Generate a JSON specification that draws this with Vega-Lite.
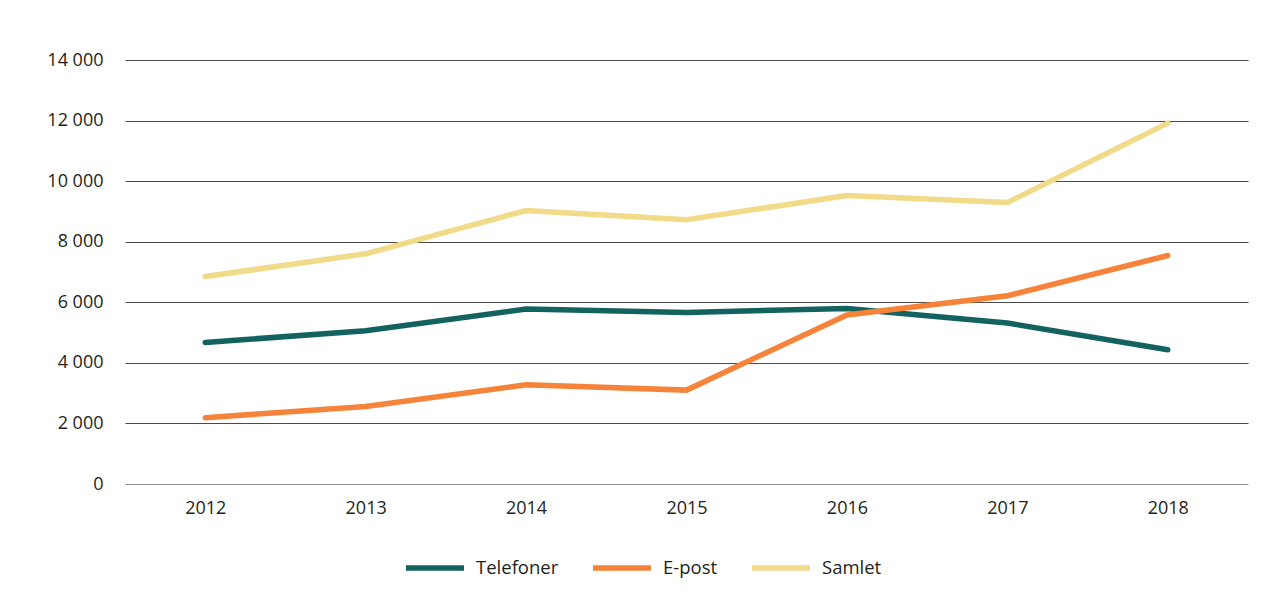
{
  "$schema": "https://vega.github.io/schema/vega-lite/v6.json",
  "autosize": {"type": "none"},
  "width": 1123,
  "height": 424,
  "padding": {"left": 125, "top": 60, "right": 25, "bottom": 126},
  "background": "white",
  "config": {
    "locale": {"number": {"decimal": ",", "thousands": " ", "grouping": [3], "currency": ["", " kr"]}},
    "view": {"stroke": null},
    "font": "Open Sans",
    "axis": {"labelFont": "Open Sans", "labelFontSize": 18, "labelColor": "#231f20"},
    "legend": {"labelFont": "Open Sans", "labelFontSize": 18.5, "labelColor": "#231f20"}
  },
  "data": {
    "values": [
      {"year": "2012", "serie": "Telefoner", "value": 4675},
      {"year": "2013", "serie": "Telefoner", "value": 5060},
      {"year": "2014", "serie": "Telefoner", "value": 5775},
      {"year": "2015", "serie": "Telefoner", "value": 5665},
      {"year": "2016", "serie": "Telefoner", "value": 5795},
      {"year": "2017", "serie": "Telefoner", "value": 5315},
      {"year": "2018", "serie": "Telefoner", "value": 4430},
      {"year": "2012", "serie": "E-post", "value": 2190},
      {"year": "2013", "serie": "E-post", "value": 2560},
      {"year": "2014", "serie": "E-post", "value": 3275},
      {"year": "2015", "serie": "E-post", "value": 3100},
      {"year": "2016", "serie": "E-post", "value": 5580},
      {"year": "2017", "serie": "E-post", "value": 6215},
      {"year": "2018", "serie": "E-post", "value": 7545},
      {"year": "2012", "serie": "Samlet", "value": 6850},
      {"year": "2013", "serie": "Samlet", "value": 7600},
      {"year": "2014", "serie": "Samlet", "value": 9030},
      {"year": "2015", "serie": "Samlet", "value": 8725},
      {"year": "2016", "serie": "Samlet", "value": 9525},
      {"year": "2017", "serie": "Samlet", "value": 9295},
      {"year": "2018", "serie": "Samlet", "value": 11915}
    ]
  },
  "mark": {"type": "line", "strokeWidth": 5.5, "strokeCap": "round", "strokeJoin": "miter"},
  "encoding": {
    "x": {
      "field": "year",
      "type": "ordinal",
      "scale": {"type": "point", "padding": 0.5},
      "axis": {"title": null, "labelAngle": 0, "domain": false, "ticks": false, "grid": false, "labelPadding": 15}
    },
    "y": {
      "field": "value",
      "type": "quantitative",
      "scale": {"domain": [0, 14000], "nice": false},
      "axis": {
        "title": null,
        "values": [0, 2000, 4000, 6000, 8000, 10000, 12000, 14000],
        "format": ",d",
        "domain": false,
        "ticks": false,
        "labelPadding": 22,
        "grid": true,
        "gridColor": {"condition": {"test": "datum.value === 0", "value": "#8a8a8a"}, "value": "#4a4a4a"},
        "gridWidth": 1.2
      }
    },
    "color": {
      "field": "serie",
      "type": "nominal",
      "scale": {"domain": ["Telefoner", "E-post", "Samlet"], "range": ["#12625f", "#f5843a", "#f1da88"]},
      "legend": {
        "title": null,
        "orient": "none",
        "legendX": 278,
        "legendY": 476,
        "direction": "horizontal",
        "symbolType": "stroke",
        "symbolSize": 3364,
        "symbolStrokeWidth": 5.5,
        "labelOffset": 9,
        "columnPadding": 23
      }
    }
  }
}
